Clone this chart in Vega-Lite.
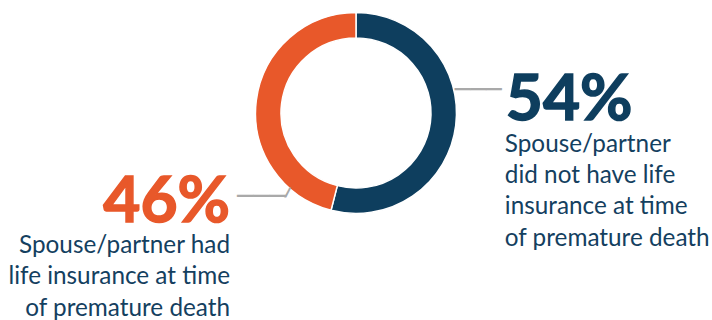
{
  "$schema": "https://vega.github.io/schema/vega-lite/v6.json",
  "width": 712,
  "height": 226,
  "autosize": {"type": "none"},
  "padding": {"left": 0, "top": 0, "right": 0, "bottom": 94},
  "background": "white",
  "config": {"view": {"stroke": null}},
  "data": {
    "values": [
      {"answer": "Did not have life insurance", "pct": 54, "ord": 1, "big": "54%", "desc": "Spouse/partner\ndid not have life\ninsurance at time\nof premature death"},
      {"answer": "Had life insurance", "pct": 46, "ord": 2, "big": "46%", "desc": "Spouse/partner had\nlife insurance at time\nof premature death"}
    ]
  },
  "encoding": {
    "theta": {"field": "pct", "type": "quantitative", "stack": true},
    "order": {"field": "ord", "type": "quantitative"}
  },
  "layer": [
    {
      "mark": {"type": "arc", "outerRadius": 100.5, "innerRadius": 75, "stroke": "white", "strokeWidth": 1.5},
      "encoding": {
        "color": {"field": "answer", "type": "nominal", "legend": null,
          "scale": {"domain": ["Did not have life insurance", "Had life insurance"], "range": ["#0e3e5e", "#e8582a"]}}
      }
    },
    {
      "mark": {"type": "text", "radius": 150, "align": "left", "baseline": "alphabetic", "dx": 1, "dy": -12, "font": "Lato", "fontWeight": "bold", "fontSize": 64, "color": "#0e3e5e", "stroke": "#0e3e5e", "strokeWidth": 1.5},
      "encoding": {
        "detail": {"field": "answer", "type": "nominal"},
        "text": {"condition": {"test": "datum.ord === 1", "field": "big"}, "value": ""}
      }
    },
    {
      "mark": {"type": "text", "radius": 150, "align": "left", "baseline": "alphabetic", "dx": 0, "dy": 20, "lineBreak": "\n", "lineHeight": 31.3, "font": "Lato", "fontSize": 24.3, "color": "#14405f"},
      "encoding": {
        "detail": {"field": "answer", "type": "nominal"},
        "text": {"condition": {"test": "datum.ord === 1", "field": "desc"}, "value": ""}
      }
    },
    {
      "mark": {"type": "text", "radius": 127, "align": "right", "baseline": "alphabetic", "dx": 0, "dy": 125, "font": "Lato", "fontWeight": "bold", "fontSize": 64, "color": "#e8582a", "stroke": "#e8582a", "strokeWidth": 1.5},
      "encoding": {
        "detail": {"field": "answer", "type": "nominal"},
        "text": {"condition": {"test": "datum.ord === 2", "field": "big"}, "value": ""}
      }
    },
    {
      "mark": {"type": "text", "radius": 127, "align": "right", "baseline": "alphabetic", "dx": 0, "dy": 156, "lineBreak": "\n", "lineHeight": 31.3, "font": "Lato", "fontSize": 24.3, "color": "#14405f"},
      "encoding": {
        "detail": {"field": "answer", "type": "nominal"},
        "text": {"condition": {"test": "datum.ord === 2", "field": "desc"}, "value": ""}
      }
    },
    {
      "mark": {"type": "text", "radius": 150, "align": "left", "baseline": "alphabetic", "dx": -50, "dy": -33.8, "font": "DejaVu Sans Mono", "fontSize": 26, "color": "#a9a9a9"},
      "encoding": {
        "detail": {"field": "answer", "type": "nominal"},
        "text": {"condition": {"test": "datum.ord === 1", "value": "───"}, "value": ""}
      }
    },
    {
      "mark": {"type": "text", "radius": 127, "align": "left", "baseline": "alphabetic", "dx": 7, "dy": 107.5, "font": "DejaVu Sans Mono", "fontSize": 27, "color": "#a9a9a9"},
      "encoding": {
        "detail": {"field": "answer", "type": "nominal"},
        "text": {"condition": {"test": "datum.ord === 2", "value": "───"}, "value": ""}
      }
    },
    {
      "mark": {"type": "text", "radius": 127, "align": "left", "baseline": "alphabetic", "dx": 55.5, "dy": 97.5, "font": "DejaVu Sans Mono", "fontSize": 7.5, "color": "#a9a9a9", "stroke": "#a9a9a9", "strokeWidth": 1.2},
      "encoding": {
        "detail": {"field": "answer", "type": "nominal"},
        "text": {"condition": {"test": "datum.ord === 2", "value": "╱"}, "value": ""}
      }
    }
  ]
}
